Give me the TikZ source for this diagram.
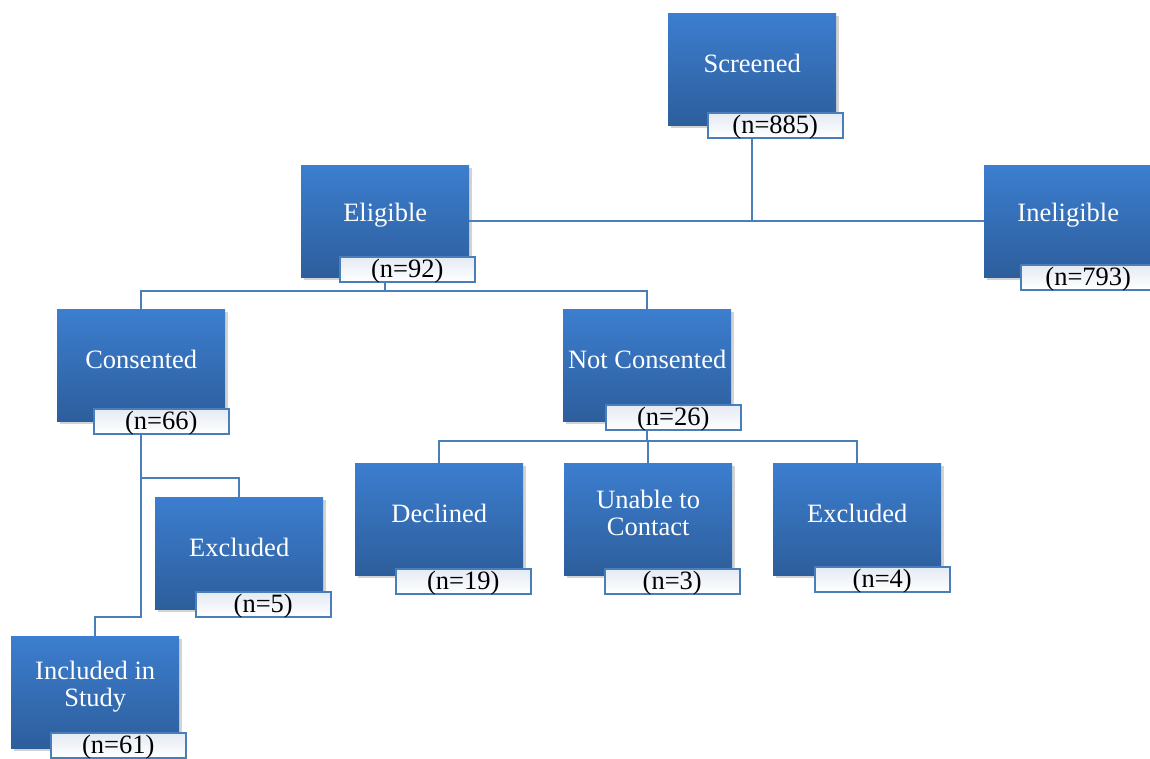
\documentclass[tikz,border=0pt]{standalone}
\usepackage{fontspec}
\setmainfont{Liberation Serif}
\usetikzlibrary{shadows}
\definecolor{boxtop}{HTML}{3C7ECF}
\definecolor{boxbot}{HTML}{2D5E9C}
\definecolor{linec}{HTML}{4A7EBB}
\definecolor{labtop}{HTML}{E4EAF3}
\tikzset{
 stagebox/.style={draw=none, top color=boxtop, bottom color=boxbot, minimum width=168pt, minimum height=112pt, inner sep=0pt, anchor=north west, drop shadow={opacity=0.35, shadow xshift=3pt, shadow yshift=-3pt}},
 stagetext/.style={text=white, font=\fontsize{26.5}{27}\selectfont, align=center, inner sep=0pt},
 countbox/.style={draw=linec, line width=1.5pt, top color=labtop, bottom color=white, minimum width=135pt, text height=21pt, text depth=4pt, inner ysep=0pt, inner xsep=0pt, anchor=north west, font=\fontsize{26.5}{27}\selectfont},
 link/.style={draw=linec, line width=2pt}
}
\begin{document}
\begin{tikzpicture}[x=1pt,y=-1pt]
\useasboundingbox (0,0) rectangle (1150,758);
% stage boxes
\node[stagebox] (scr) at (668,13) {};
\node[stagebox] (eli) at (301,165) {};
\node[stagebox] (ine) at (984,165) {};
\node[stagebox] (con) at (57,309) {};
\node[stagebox] (nco) at (563,309) {};
\node[stagebox] (dec) at (355,463) {};
\node[stagebox] (una) at (564,463) {};
\node[stagebox] (exr) at (773,463) {};
\node[stagebox] (exl) at (155,497) {};
\node[stagebox] (inc) at (11,636) {};
% stage texts
\node[stagetext] (scrt) at ([yshift=6pt]scr.center) {Screened};
\node[stagetext] (elit) at ([yshift=6pt]eli.center) {Eligible};
\node[stagetext] (inet) at ([yshift=6pt]ine.center) {Ineligible};
\node[stagetext] (cont) at ([yshift=6pt]con.center) {Consented};
\node[stagetext] (ncot) at ([yshift=6pt]nco.center) {Not Consented};
\node[stagetext] (dect) at ([yshift=6pt]dec.center) {Declined};
\node[stagetext] (unat) at ([yshift=6pt]una.center) {Unable to\\Contact};
\node[stagetext] (exrt) at ([yshift=6pt]exr.center) {Excluded};
\node[stagetext] (exlt) at ([yshift=6pt]exl.center) {Excluded};
\node[stagetext] (inct) at ([yshift=6pt]inc.center) {Included in\\Study};
% count boxes
\node[countbox] (scrn) at (707,112) {(n=885)};
\node[countbox] (elin) at (339,256) {(n=92)};
\node[countbox] (inen) at (1020,264) {(n=793)};
\node[countbox] (conn) at (93,408) {(n=66)};
\node[countbox] (ncon) at (605,404) {(n=26)};
\node[countbox] (decn) at (395,568) {(n=19)};
\node[countbox] (unan) at (604,568) {(n=3)};
\node[countbox] (exrn) at (814,566) {(n=4)};
\node[countbox] (exln) at (195,591) {(n=5)};
\node[countbox] (incn) at (50,732) {(n=61)};
% junction coordinates
\coordinate (b1) at (0,291);
\coordinate (b2) at (0,441);
\coordinate (b3) at (0,478);
\coordinate (b4) at (0,617);
% connectors
\draw[link] (scr.center |- scrn.south) -- (scr.center |- eli.east);
\draw[link] (eli.east) -- (ine.west);
\draw[link] (eli.center |- elin.south) -- (eli.center |- b1);
\draw[link] (con.north) |- (nco.north |- b1) -- (nco.north);
\draw[link] (nco.center |- ncon.south) -- (nco.center |- b2);
\draw[link] (dec.north) |- (exr.north |- b2) -- (exr.north);
\draw[link] (una.north) -- (una.north |- b2);
\draw[link] (con.center |- conn.south) -- (con.center |- b4) -| (inc.north);
\draw[link] (con.center |- b3) -| (exl.north);
\end{tikzpicture}
\end{document}
